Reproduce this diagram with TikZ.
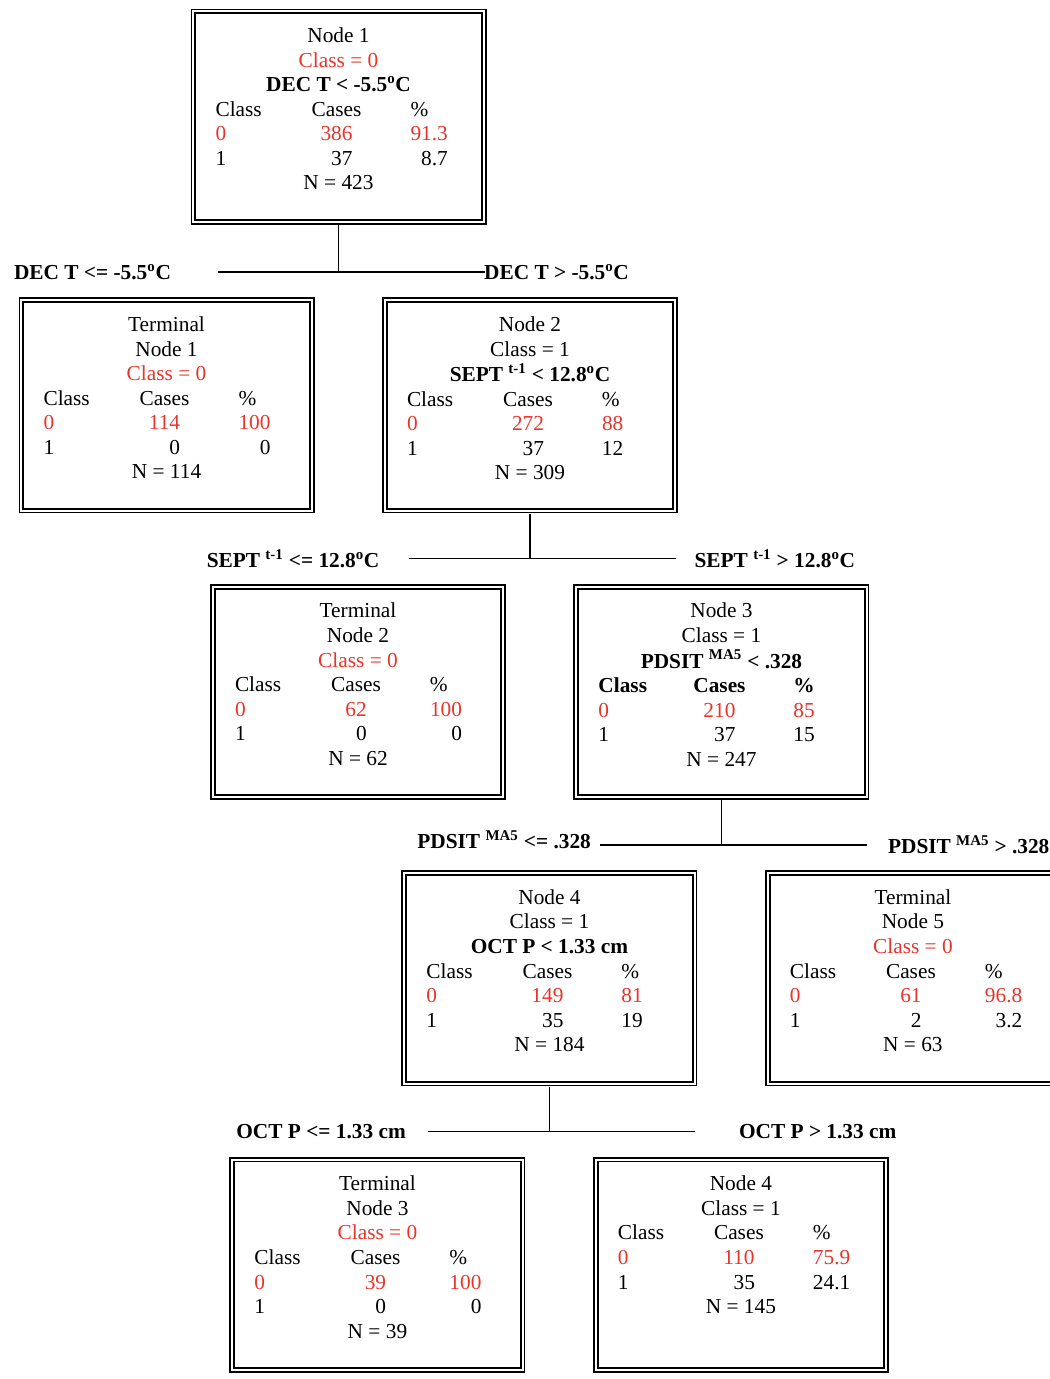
\documentclass[tikz,border=0pt]{standalone}
\usepackage{fontspec}
\setmainfont{Liberation Serif}
\usepackage{array}
\usepackage{xcolor}
\usepackage{tikz}
\usetikzlibrary{positioning}
\definecolor{clsred}{HTML}{E8352B}
\newcommand{\redtxt}[1]{\textcolor{clsred}{#1}}
\newcommand{\fullrow}[1]{\multicolumn{3}{@{}c@{}}{#1}}
\newcommand{\cartbox}[1]{\begin{tabular}[t]{@{\hspace{16.65pt}}p{35.25pt}@{}>{\centering\arraybackslash}p{111pt}@{}p{54.9pt}@{}}#1\end{tabular}}
\tikzset{
  cartnode/.style  = {rectangle, draw, double, line width=1.3pt, double distance=1.6pt,
                      inner sep=0pt, outer sep=0pt, minimum width=217.8pt,
                      text height=23.4pt, text depth=134.4pt,
                      font=\fontsize{16}{18.4}\selectfont},
  condlabel/.style = {font=\fontsize{16}{18.4}\selectfont\bfseries, inner sep=1pt},
  treeline/.style  = {line width=1pt},
}

\begin{document}
\begin{tikzpicture}
  \useasboundingbox (0,0) rectangle (787.5pt,-1034.25pt);

  % ROOT: Node 1
  \node[cartnode] (n1) at (253.9pt,-87.4pt) {\cartbox{%
    \fullrow{Node 1}\\
    \fullrow{\redtxt{Class = 0}}\\
    \fullrow{\textbf{DEC T < -5.5\textsuperscript{o}C}}\\
    Class & Cases & \%\\
    \redtxt{0} & \redtxt{386} & \redtxt{91.3}\\
    1 & \phantom{3}37 & \phantom{9}8.7\\
    \fullrow{N = 423}}};

  \coordinate[below=37.7pt of n1.south] (j1);
  \coordinate[left=90.75pt of j1] (j1l);
  \coordinate[right=109.5pt of j1] (j1r);
  \node[condlabel, left=33.75pt of j1l] (c1l) {DEC T <= -5.5\textsuperscript{o}C};
  \node[condlabel, right=-1.5pt of j1r] (c1r) {DEC T > -5.5\textsuperscript{o}C};

  \node[cartnode, below=21.2pt of j1, xshift=-129pt] (t1) {\cartbox{%
    \fullrow{Terminal}\\
    \fullrow{Node 1}\\
    \fullrow{\redtxt{Class = 0}}\\
    Class & Cases & \%\\
    \redtxt{0} & \redtxt{114} & \redtxt{100}\\
    1 & \phantom{11}0 & \phantom{10}0\\
    \fullrow{N = 114}}};
  \node[cartnode, below=21.2pt of j1, xshift=143.6pt] (n2) {\cartbox{%
    \fullrow{Node 2}\\
    \fullrow{Class = 1}\\
    \fullrow{\textbf{SEPT \textsuperscript{t-1} < 12.8\textsuperscript{o}C}}\\
    Class & Cases & \%\\
    \redtxt{0} & \redtxt{272} & \redtxt{88}\\
    1 & \phantom{2}37 & 12\\
    \fullrow{N = 309}}};

  \draw[treeline, shorten <=2.4pt] (n1.south) -- (j1);
  \draw[treeline] (j1l) -- (j1r);

  % SECOND SPLIT: Node 2
  \coordinate[below=35.85pt of n2.south] (j2);
  \coordinate[left=90.75pt of j2] (j2l);
  \coordinate[right=109.5pt of j2] (j2r);
  \node[condlabel, left=21pt of j2l] (c2l) {SEPT \textsuperscript{t-1} <= 12.8\textsuperscript{o}C};
  \node[condlabel, right=12.75pt of j2r] (c2r) {SEPT \textsuperscript{t-1} > 12.8\textsuperscript{o}C};

  \node[cartnode, below=21.2pt of j2, xshift=-129pt] (t2) {\cartbox{%
    \fullrow{Terminal}\\
    \fullrow{Node 2}\\
    \fullrow{\redtxt{Class = 0}}\\
    Class & Cases & \%\\
    \redtxt{0} & \redtxt{62} & \redtxt{100}\\
    1 & \phantom{6}0 & \phantom{10}0\\
    \fullrow{N = 62}}};
  \node[cartnode, below=21.2pt of j2, xshift=143.6pt] (n3) {\cartbox{%
    \fullrow{Node 3}\\
    \fullrow{Class = 1}\\
    \fullrow{\textbf{PDSIT \textsuperscript{MA5} < .328}}\\
    \textbf{Class} & \textbf{Cases} & \textbf{\%}\\
    \redtxt{0} & \redtxt{210} & \redtxt{85}\\
    1 & \phantom{2}37 & 15\\
    \fullrow{N = 247}}};

  \draw[treeline, shorten <=2.4pt] (n2.south) -- (j2);
  \draw[treeline] (j2l) -- (j2r);

  % THIRD SPLIT: Node 3
  \coordinate[below=35.85pt of n3.south] (j3);
  \coordinate[left=90.75pt of j3] (j3l);
  \coordinate[right=109.5pt of j3] (j3r);
  \node[condlabel, left=6pt of j3l, yshift=3.75pt] (c3l) {PDSIT \textsuperscript{MA5} <= .328};
  \node[condlabel, right=14.25pt of j3r] (c3r) {PDSIT \textsuperscript{MA5} > .328};

  \node[cartnode, below=21.2pt of j3, xshift=-129pt] (n4) {\cartbox{%
    \fullrow{Node 4}\\
    \fullrow{Class = 1}\\
    \fullrow{\textbf{OCT P < 1.33 cm}}\\
    Class & Cases & \%\\
    \redtxt{0} & \redtxt{149} & \redtxt{81}\\
    1 & \phantom{1}35 & 19\\
    \fullrow{N = 184}}};
  \node[cartnode, below=21.2pt of j3, xshift=143.6pt] (t5) {\cartbox{%
    \fullrow{Terminal}\\
    \fullrow{Node 5}\\
    \fullrow{\redtxt{Class = 0}}\\
    Class & Cases & \%\\
    \redtxt{0} & \redtxt{61} & \redtxt{96.8}\\
    1 & \phantom{6}2 & \phantom{9}3.2\\
    \fullrow{N = 63}}};

  \draw[treeline, shorten <=2.4pt] (n3.south) -- (j3);
  \draw[treeline] (j3l) -- (j3r);

  % FOURTH SPLIT: Node 4
  \coordinate[below=35.85pt of n4.south] (j4);
  \coordinate[left=90.75pt of j4] (j4l);
  \coordinate[right=109.5pt of j4] (j4r);
  \node[condlabel, left=15.75pt of j4l] (c4l) {OCT P <= 1.33 cm};
  \node[condlabel, right=31.5pt of j4r] (c4r) {OCT P > 1.33 cm};

  \node[cartnode, below=21.2pt of j4, xshift=-129pt] (t3) {\cartbox{%
    \fullrow{Terminal}\\
    \fullrow{Node 3}\\
    \fullrow{\redtxt{Class = 0}}\\
    Class & Cases & \%\\
    \redtxt{0} & \redtxt{39} & \redtxt{100}\\
    1 & \phantom{3}0 & \phantom{10}0\\
    \fullrow{N = 39}}};
  \node[cartnode, below=21.2pt of j4, xshift=143.6pt] (n4r) {\cartbox{%
    \fullrow{Node 4}\\
    \fullrow{Class = 1}\\
    Class & Cases & \%\\
    \redtxt{0} & \redtxt{110} & \redtxt{75.9}\\
    1 & \phantom{1}35 & 24.1\\
    \fullrow{N = 145}}};

  \draw[treeline, shorten <=2.4pt] (n4.south) -- (j4);
  \draw[treeline] (j4l) -- (j4r);

\end{tikzpicture}
\end{document}
